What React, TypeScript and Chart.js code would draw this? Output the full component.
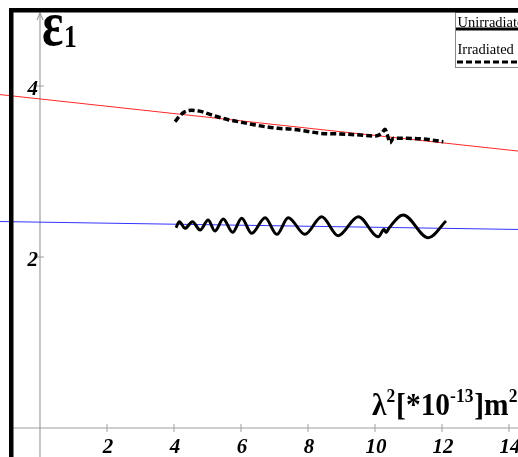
import React, { useEffect, useRef } from "react";
import { Chart, registerables } from "chart.js";

Chart.register(...registerables);

// ---- data ----
const xTicks = [2, 4, 6, 8, 10, 12, 14];
const yTicks = [2, 4];

// Unirradiated (solid, oscillating)
const unirrX = [4.06, 4.16, 4.33, 4.55, 4.78, 5.02, 5.22, 5.47, 5.75, 6.02, 6.32, 6.72, 7.07, 7.41, 7.91, 8.41, 8.9, 9.5, 10.1, 10.27, 10.33, 10.42, 10.84, 11.59, 12.12];
const unirrY = [2.343, 2.413, 2.336, 2.413, 2.316, 2.433, 2.304, 2.444, 2.289, 2.453, 2.277, 2.46, 2.265, 2.46, 2.265, 2.471, 2.249, 2.471, 2.237, 2.322, 2.287, 2.339, 2.491, 2.226, 2.421];

// Irradiated (dashed)
const irrX = [4.03, 4.18, 4.33, 4.53, 4.83, 5.07, 5.32, 5.62, 5.92, 6.32, 6.72, 7.11, 7.56, 7.96, 8.36, 8.96, 9.55, 10.0, 10.2, 10.3, 10.37, 10.45, 10.55, 10.95, 11.44, 12.04];
const irrY = [3.583, 3.653, 3.7, 3.716, 3.7, 3.669, 3.637, 3.606, 3.583, 3.552, 3.524, 3.505, 3.494, 3.472, 3.447, 3.439, 3.427, 3.415, 3.447, 3.494, 3.427, 3.337, 3.388, 3.388, 3.38, 3.349];

// Fitted straight lines
const redLineX = [-1.2, 14.3];
const redLineY = [3.9, 3.238];
const blueLineX = [-1.2, 14.3];
const blueLineY = [2.415, 2.322];

const legendLabels = ["Unirradiated", "Irradiated"];

const zip = (xs: number[], ys: number[]) => xs.map((x, i) => ({ x, y: ys[i] }));

const SERIF = "'Liberation Serif', 'Times New Roman', serif";

const decorPlugin = {
  id: "decor",
  beforeDatasetsDraw(chart: any) {
    const ctx = chart.ctx as CanvasRenderingContext2D;
    const xs = chart.scales.x;
    const ys = chart.scales.y;
    const x0 = xs.getPixelForValue(0);
    const y0 = ys.getPixelForValue(0);
    const W = chart.width;
    const H = chart.height;
    ctx.save();
    ctx.strokeStyle = "#a0a0a0";
    ctx.lineWidth = 1.2;
    // y axis
    ctx.beginPath();
    ctx.moveTo(x0, 13);
    ctx.lineTo(x0, H);
    ctx.stroke();
    // arrow head
    ctx.beginPath();
    ctx.moveTo(x0 - 3, 20);
    ctx.lineTo(x0, 13);
    ctx.lineTo(x0 + 3, 20);
    ctx.stroke();
    // x axis
    ctx.beginPath();
    ctx.moveTo(13, y0);
    ctx.lineTo(W, y0);
    ctx.stroke();
    // ticks
    ctx.lineWidth = 1;
    xTicks.forEach((t) => {
      const px = xs.getPixelForValue(t);
      ctx.beginPath();
      ctx.moveTo(px, y0 - 4);
      ctx.lineTo(px, y0 + 4);
      ctx.stroke();
    });
    yTicks.forEach((t) => {
      const py = ys.getPixelForValue(t);
      ctx.beginPath();
      ctx.moveTo(x0 - 4, py);
      ctx.lineTo(x0 + 4, py);
      ctx.stroke();
    });
    // tick labels
    ctx.fillStyle = "#000";
    ctx.font = `bold italic 21px ${SERIF}`;
    ctx.textBaseline = "alphabetic";
    ctx.textAlign = "center";
    xTicks.forEach((t) => {
      const px = xs.getPixelForValue(t);
      ctx.fillText(String(t), px + 1, y0 + 25);
    });
    ctx.textAlign = "right";
    yTicks.forEach((t) => {
      const py = ys.getPixelForValue(t);
      ctx.fillText(String(t), x0 - 2, py + 9);
    });
    ctx.restore();
  },
  afterDraw(chart: any) {
    const ctx = chart.ctx as CanvasRenderingContext2D;
    const W = chart.width;
    const H = chart.height;
    ctx.save();
    ctx.fillStyle = "#000";
    ctx.textAlign = "left";
    ctx.textBaseline = "alphabetic";
    // Title epsilon_1 (condensed serif)
    ctx.save();
    ctx.translate(42, 45);
    ctx.scale(0.78, 1);
    ctx.font = `bold 64px ${SERIF}`;
    ctx.fillText("ε", 0, 0);
    ctx.restore();
    ctx.save();
    ctx.translate(64, 47);
    ctx.scale(0.8, 1);
    ctx.font = `bold 32px ${SERIF}`;
    ctx.fillText("1", 0, 0);
    ctx.restore();

    // axis label  λ²[*10-13]m²  (condensed)
    const big = `bold 32px ${SERIF}`;
    const small = `bold 19px ${SERIF}`;
    const parts: [string, boolean][] = [
      ["λ", false],
      ["2", true],
      ["[*10", false],
      ["-13", true],
      ["]m", false],
      ["2", true],
    ];
    ctx.save();
    ctx.translate(372, 415);
    ctx.scale(0.92, 1);
    let x = 0;
    parts.forEach(([s, sup]) => {
      ctx.font = sup ? small : big;
      ctx.fillText(s, x, sup ? -13 : 0);
      x += ctx.measureText(s).width + (sup ? 1 : 0);
    });
    ctx.restore();

    // legend
    ctx.strokeStyle = "#888";
    ctx.lineWidth = 1;
    ctx.strokeRect(455.5, 12.5, 80, 55);
    ctx.font = `14.5px ${SERIF}`;
    ctx.fillStyle = "#000";
    ctx.fillText(legendLabels[0], 457.5, 26.5);
    ctx.fillText(legendLabels[1], 457.5, 53.5);
    ctx.strokeStyle = "#000";
    ctx.lineWidth = 3;
    ctx.beginPath();
    ctx.moveTo(456, 29);
    ctx.lineTo(W, 29);
    ctx.stroke();
    ctx.setLineDash([6, 3]);
    ctx.beginPath();
    ctx.moveTo(457, 62);
    ctx.lineTo(W, 62);
    ctx.stroke();
    ctx.setLineDash([]);

    // black frame
    ctx.fillStyle = "#000";
    ctx.fillRect(9, 8, W - 9, 4.5);
    ctx.fillRect(9, 8, 4.5, H - 8);
    ctx.restore();
  },
};

export default function App() {
  const ref = useRef<HTMLCanvasElement>(null);
  useEffect(() => {
    if (!ref.current) return;
    const chart = new Chart(ref.current, {
      type: "scatter",
      data: {
        datasets: [
          {
            label: legendLabels[0],
            data: zip(unirrX, unirrY),
            showLine: true,
            borderColor: "#000",
            borderWidth: 3,
            pointRadius: 0,
            cubicInterpolationMode: "monotone",
            order: 0,
          },
          {
            label: legendLabels[1],
            data: zip(irrX, irrY),
            showLine: true,
            borderColor: "#000",
            borderWidth: 3.5,
            borderDash: [6, 3],
            pointRadius: 0,
            cubicInterpolationMode: "monotone",
            order: 0,
          },
          {
            label: "fit-red",
            data: zip(redLineX, redLineY),
            showLine: true,
            borderColor: "rgb(255,40,40)",
            borderWidth: 1,
            pointRadius: 0,
            order: 1,
          },
          {
            label: "fit-blue",
            data: zip(blueLineX, blueLineY),
            showLine: true,
            borderColor: "rgb(50,50,255)",
            borderWidth: 1,
            pointRadius: 0,
            order: 1,
          },
        ],
      },
      options: {
        responsive: false,
        animation: false,
        devicePixelRatio: 1,
        layout: { padding: 0 },
        plugins: { legend: { display: false }, tooltip: { enabled: false } },
        scales: {
          x: { type: "linear", min: -1.194, max: 14.269, display: false },
          y: { type: "linear", min: -0.339, max: 5.006, display: false },
        },
      },
      plugins: [decorPlugin],
    } as any);
    return () => chart.destroy();
  }, []);
  return (
    <div style={{ position: "fixed", left: 0, top: 0, width: 518, height: 457, background: "#fff" }}>
      <canvas ref={ref} width={518} height={457} style={{ display: "block" }} />
    </div>
  );
}
